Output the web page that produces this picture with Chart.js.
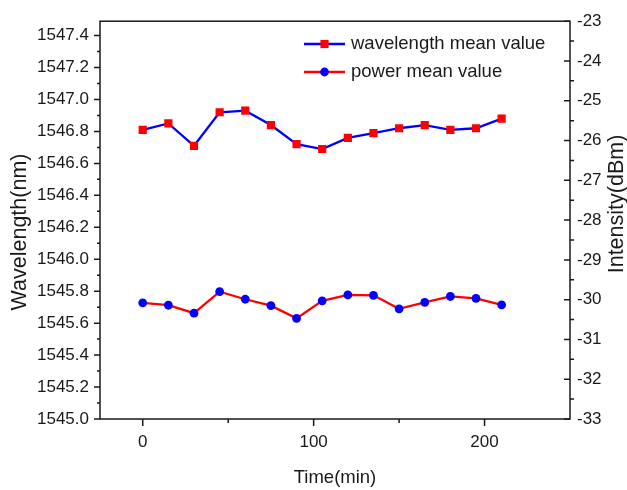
<!DOCTYPE html>
<html>
<head>
<meta charset="utf-8">
<script src="https://cdn.jsdelivr.net/npm/chart.js@4/dist/chart.umd.min.js"></script>
<style>
	html, body { margin: 0; padding: 0; background: #fff; }
	#wrap { width: 627px; height: 490px; position: relative; }
</style>
</head>
<body>
<div id="wrap"><canvas id="chart"></canvas></div>
<script>
const timeMin = [0, 15, 30, 45, 60, 75, 90, 105, 120, 135, 150, 165, 180, 195, 210];
const wavelengthMean = [1546.81, 1546.85, 1546.71, 1546.92, 1546.93, 1546.84, 1546.72, 1546.69,
                        1546.76, 1546.79, 1546.82, 1546.84, 1546.81, 1546.82, 1546.88];
const powerMean = [-30.08, -30.14, -30.34, -29.80, -29.99, -30.15, -30.47, -30.03,
                   -29.88, -29.89, -30.23, -30.07, -29.92, -29.97, -30.13];

const xTicks = [0, 100, 200];
const xMinorTicks = [50, 150];
const leftTicks = [1545.0, 1545.2, 1545.4, 1545.6, 1545.8, 1546.0, 1546.2, 1546.4, 1546.6, 1546.8, 1547.0, 1547.2, 1547.4];
const rightTicks = [-33, -32, -31, -30, -29, -28, -27, -26, -25, -24, -23];
const leftTitle = 'Wavelength(nm)';
const rightTitle = 'Intensity(dBm)';

const FONT = "'Liberation Sans', Arial, sans-serif";
const INK = '#1a1a1a';

// axis frame, tick marks (major/minor), y titles and legend, Origin style
const framePlugin = {
	id: 'frame',
	afterDraw(chart) {
		const ctx = chart.ctx;
		const a = chart.chartArea;
		const x = chart.scales.x, yL = chart.scales.yL, yR = chart.scales.yR;
		ctx.save();
		ctx.strokeStyle = INK;
		ctx.lineWidth = 1.5;
		ctx.strokeRect(a.left, a.top, a.right - a.left, a.bottom - a.top);
		ctx.beginPath();
		// left: major + minor outward
		leftTicks.forEach(v => {
			let py = yL.getPixelForValue(v);
			ctx.moveTo(a.left - 6, py); ctx.lineTo(a.left, py);
			let m = v + 0.1;
			if (m < yL.max) {
				py = yL.getPixelForValue(m);
				ctx.moveTo(a.left - 3, py); ctx.lineTo(a.left, py);
			}
		});
		// right: major inward, minor outward
		rightTicks.forEach(v => {
			let py = yR.getPixelForValue(v);
			ctx.moveTo(a.right - 6, py); ctx.lineTo(a.right, py);
			if (v + 0.5 < yR.max) {
				py = yR.getPixelForValue(v + 0.5);
				ctx.moveTo(a.right, py); ctx.lineTo(a.right + 4, py);
			}
		});
		// bottom
		xTicks.forEach(v => {
			let px = x.getPixelForValue(v);
			ctx.moveTo(px, a.bottom); ctx.lineTo(px, a.bottom + 7);
		});
		xMinorTicks.forEach(v => {
			let px = x.getPixelForValue(v);
			ctx.moveTo(px, a.bottom); ctx.lineTo(px, a.bottom + 4);
		});
		ctx.stroke();

		// vertical axis titles
		ctx.fillStyle = INK;
		ctx.textAlign = 'center';
		ctx.textBaseline = 'middle';
		ctx.font = '21.5px ' + FONT;
		ctx.save();
		ctx.translate(20, 232);
		ctx.rotate(-Math.PI / 2);
		ctx.fillText(leftTitle, 0, 0);
		ctx.restore();
		ctx.save();
		ctx.translate(617, 204);
		ctx.rotate(-Math.PI / 2);
		ctx.fillText(rightTitle, 0, 0);
		ctx.restore();

		// legend inside the plot
		const rows = [{ds: chart.data.datasets[0], y: 44}, {ds: chart.data.datasets[1], y: 72}];
		rows.forEach(r => {
			ctx.beginPath();
			ctx.strokeStyle = r.ds.borderColor;
			ctx.lineWidth = r.ds.borderWidth;
			ctx.moveTo(304, r.y); ctx.lineTo(345, r.y);
			ctx.stroke();
			ctx.fillStyle = r.ds.pointBackgroundColor;
			ctx.strokeStyle = r.ds.pointBorderColor;
			Chart.helpers.drawPoint(ctx, {
				pointStyle: r.ds.pointStyle,
				radius: r.ds.pointRadius,
				borderWidth: 0,
				rotation: 0
			}, 324.5, r.y);
			ctx.fillStyle = INK;
			ctx.font = '18.5px ' + FONT;
			ctx.textBaseline = 'middle';
			ctx.textAlign = 'left';
			ctx.fillText(r.ds.label, 351, r.y);
		});
		ctx.restore();
	}
};

const tickFont = { family: FONT, size: 17 };
const titleFont = { family: FONT, size: 18.5, lineHeight: 1 };

new Chart(document.getElementById('chart'), {
	type: 'line',
	data: {
		datasets: [
			{
				label: 'wavelength mean value',
				data: timeMin.map((t, i) => ({x: t, y: wavelengthMean[i]})),
				yAxisID: 'yL',
				borderColor: '#0000ff',
				borderWidth: 2.3,
				pointStyle: 'rect',
				pointRadius: 5.8,
				pointBackgroundColor: '#ff0000',
				pointBorderColor: '#ff0000',
				pointBorderWidth: 0
			},
			{
				label: 'power mean value',
				data: timeMin.map((t, i) => ({x: t, y: powerMean[i]})),
				yAxisID: 'yR',
				borderColor: '#ff0000',
				borderWidth: 2.3,
				pointStyle: 'circle',
				pointRadius: 4.4,
				pointBackgroundColor: '#0000ff',
				pointBorderColor: '#0000ff',
				pointBorderWidth: 0
			}
		]
	},
	options: {
		responsive: true,
		maintainAspectRatio: false,
		devicePixelRatio: 1,
		animation: false,
		events: [],
		layout: { padding: { top: 18, left: 0, right: 0, bottom: 0 } },
		plugins: {
			legend: { display: false },
			tooltip: { enabled: false }
		},
		scales: {
			x: {
				type: 'linear',
				min: -25,
				max: 250,
				afterBuildTicks: s => { s.ticks = xTicks.map(v => ({value: v})); },
				afterFit: s => { s.height = 71; },
				grid: { drawOnChartArea: false, drawTicks: false },
				border: { display: false },
				ticks: { font: tickFont, color: INK, padding: 13, maxRotation: 0 },
				title: { display: true, text: 'Time(min)', font: titleFont, color: INK, padding: { top: 0, bottom: 3 } }
			},
			yL: {
				type: 'linear',
				position: 'left',
				min: 1545.0,
				max: 1547.49,
				afterBuildTicks: s => { s.ticks = leftTicks.map(v => ({value: v})); },
				afterFit: s => { s.width = 100; },
				grid: { drawOnChartArea: false, drawTicks: false },
				border: { display: false },
				ticks: { font: tickFont, color: INK, padding: 11, callback: v => v.toFixed(1) }
			},
			yR: {
				type: 'linear',
				position: 'right',
				min: -33,
				max: -23,
				afterBuildTicks: s => { s.ticks = rightTicks.map(v => ({value: v})); },
				afterFit: s => { s.width = 57; },
				grid: { drawOnChartArea: false, drawTicks: false },
				border: { display: false },
				ticks: { font: tickFont, color: INK, padding: 7 }
			}
		}
	},
	plugins: [framePlugin]
});
</script>
</body>
</html>
